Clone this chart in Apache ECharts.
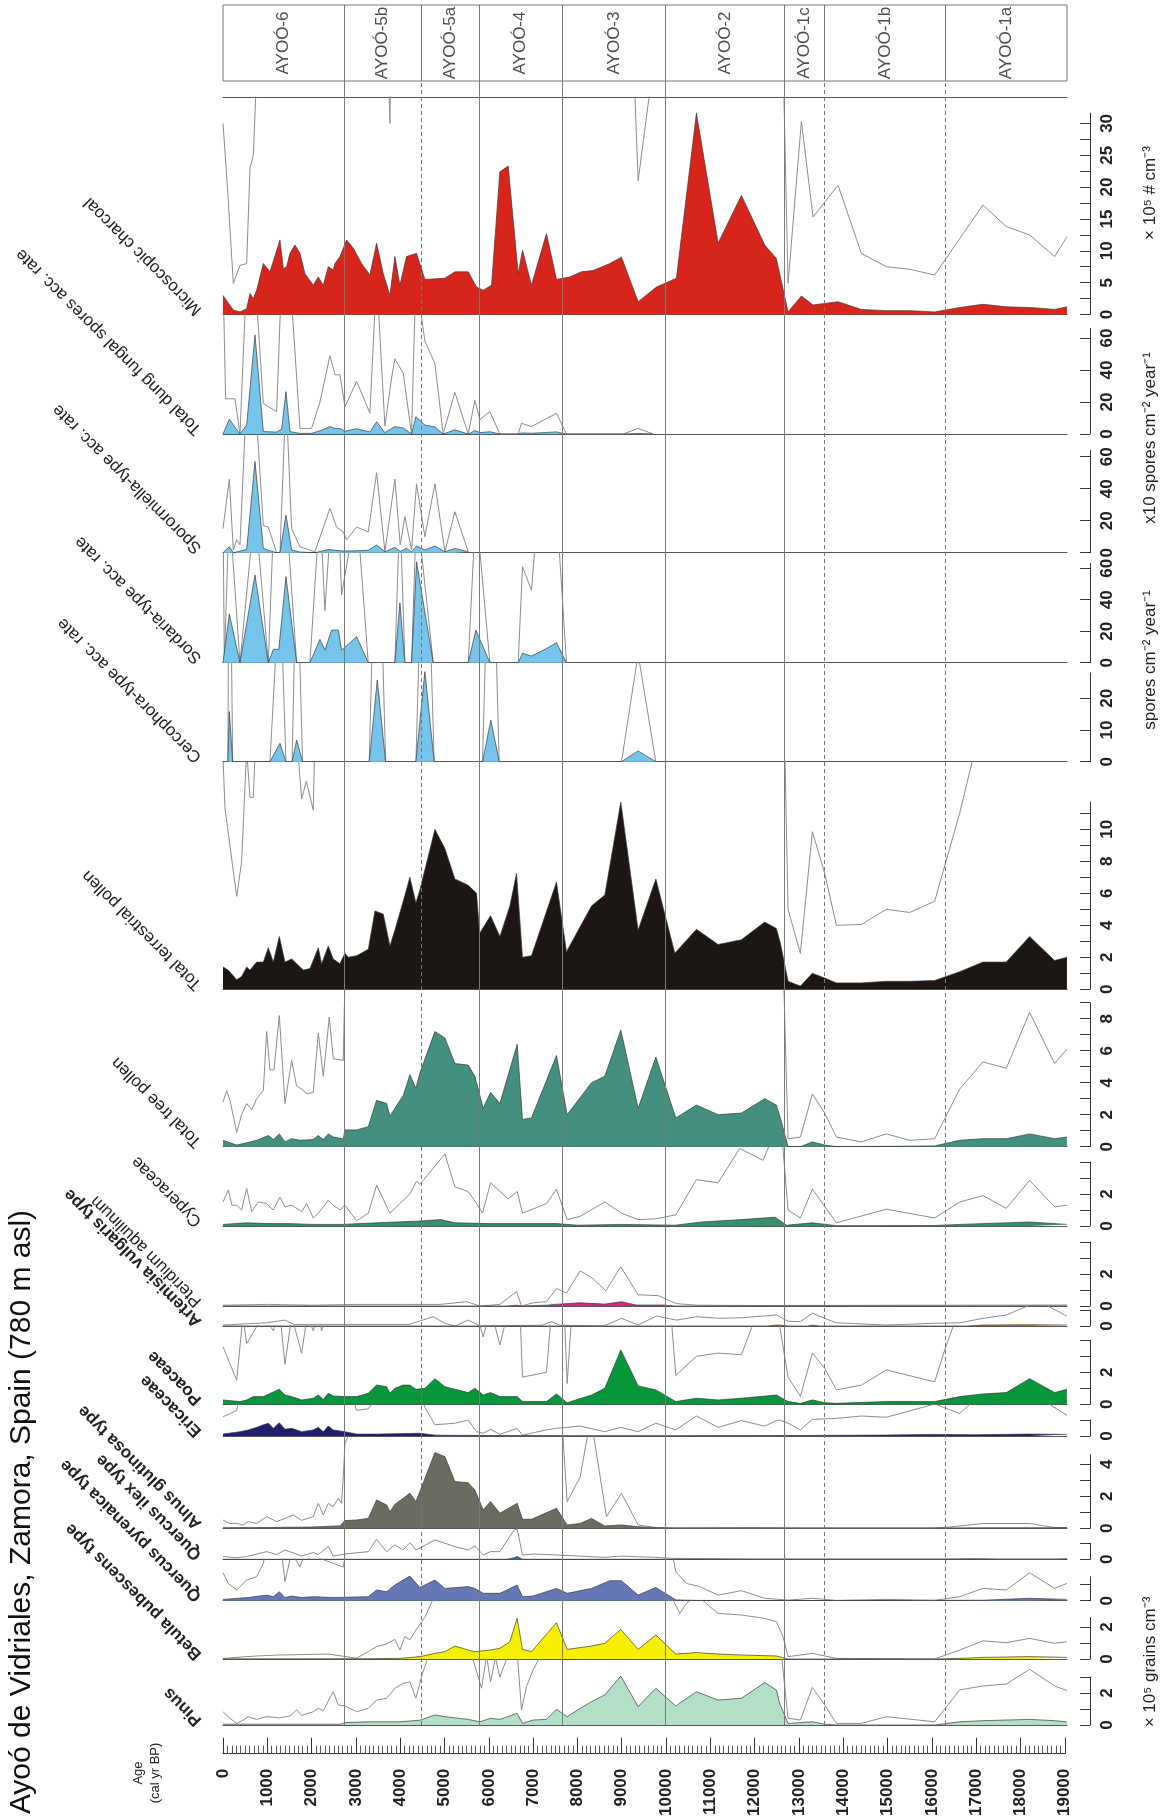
<!DOCTYPE html>
<html lang="en">
<head>
<meta charset="UTF-8">
<title>Ayoó de Vidriales</title>
<script src="https://cdn.jsdelivr.net/npm/echarts/dist/echarts.min.js"></script>
<style>html,body{margin:0;padding:0;background:#fff}</style>
</head>
<body>
<div id="main" style="width:1168px;height:1819px;"></div>
<script type="text/javascript">
var chart = echarts.init(document.getElementById('main'));
var FONT = '"Liberation Sans", Arial, Helvetica, sans-serif';

// ---- zones ----
var zoneBounds = [0, 2730, 4480, 5780, 7655, 9990, 12670, 13580, 16300, 19050];
var zoneNames = ['AYOÓ-6', 'AYOÓ-5b', 'AYOÓ-5a', 'AYOÓ-4', 'AYOÓ-3', 'AYOÓ-2', 'AYOÓ-1c', 'AYOÓ-1b', 'AYOÓ-1a'];
var mainBounds = [2730, 5780, 7655, 9990, 12670];
var subBounds = [4480, 13580, 16300];

// ---- data: [age, value, age, value, ...] ----
var charcoal = [0,3.0, 100,2.0, 233,0.7, 383,0.4, 534,0.9, 609,3.3, 684,2.5, 760,3.8, 910,8.0, 1060,6.7, 1286,11.7, 1361,7.2, 1436,7.5, 1512,9.6, 1624,10.9, 1737,9.6, 1850,6.4, 2038,4.6, 2151,5.9, 2264,4.6, 2376,7.5, 2489,7.0, 2527,8.0, 2640,9.1, 2790,11.7, 2940,10.4, 3128,8.0, 3316,6.2, 3467,11.2, 3617,6.4, 3768,3.0, 3880,9.1, 3993,4.6, 4143,9.1, 4368,9.6, 4557,5.5, 5008,5.7, 5234,6.7, 5535,6.7, 5723,4.3, 5873,3.8, 6061,4.6, 6249,22.4, 6437,23.3, 6663,6.4, 6760,10.1, 6963,4.6, 7301,12.7, 7527,5.5, 7828,5.9, 8091,6.7, 8354,6.9, 8730,8.0, 8994,9.0, 9370,2.0, 9783,4.3, 10234,5.7, 10686,31.6, 11175,11.2, 11701,18.7, 12227,10.9, 12490,8.8, 12754,0.4, 13055,2.9, 13318,1.5, 13882,2.0, 14409,0.8, 14973,0.6, 15499,0.6, 16063,0.4, 16627,1.1, 17153,1.6, 17680,1.2, 18206,1.1, 18770,0.8, 19048,1.2];
var charcoalEx = [0,30, 100,20, 233,4.9, 383,7.7, 534,8.0, 609,23, 684,25, 760,38, 910,80, 3467,112, 3617,64, 3768,30, 3880,91, 8994,90, 9370,21, 9783,43, 12490,88, 12754,4.9, 13055,30.3, 13318,15.3, 13882,20.3, 14409,9.6, 14973,7.5, 15499,7.1, 16063,6.2, 17153,17.2, 17680,13.8, 18206,12.5, 18770,9.1, 19048,12.2];

var dung = [0,0, 143,9.2, 383,0, 534,5.6, 722,62, 910,1.5, 1211,1.2, 1323,3, 1421,26.5, 1512,1.5, 1737,0.4, 2000,0.4, 2188,2, 2414,4.6, 2527,3.5, 2640,3.5, 2752,1.7, 3016,3.3, 3316,1.3, 3467,7.7, 3655,0.8, 3805,3.5, 3880,4.6, 4068,3.8, 4256,0, 4354,10.8, 4557,5.6, 4783,4.4, 4970,0, 5234,2.6, 5535,0, 5685,2.1, 5798,0.9, 6024,1.4, 6250,0, 6663,0, 6738,0.67, 6963,0.46, 7527,1.3, 7753,0, 9030,0, 9370,0.35, 9710,0];
var dungEx = [0,99, 60,22, 271,22, 383,0, 534,99, 722,99, 910,19, 1211,14, 1323,99, 1512,99, 1737,3.5, 2000,3.5, 2188,20, 2414,49, 2527,37, 2640,37, 2752,17, 3016,33, 3316,13, 3467,99, 3655,5, 3805,35, 3880,47, 4068,38, 4256,0, 4354,99, 4557,58, 4783,44, 4970,0, 5234,26, 5535,0, 5685,21, 5798,9, 6024,14, 6250,0, 6663,0, 6738,6.7, 6963,4.6, 7527,13, 7753,0, 9030,0, 9370,3.5, 9710,0];

var spor = [0,0, 143,3.8, 233,0, 383,1, 534,2, 722,57, 910,2.7, 1023,1.5, 1211,0, 1286,0, 1421,23.5, 1549,1.7, 1737,0.4, 2075,0, 2376,2, 2715,1, 3016,1.2, 3279,1.5, 3467,4.8, 3655,0.6, 3880,3.3, 4000,0.8, 4143,2.7, 4256,0.6, 4368,4.2, 4557,1.7, 4783,4.2, 5008,0.6, 5234,2.7, 5535,0.6];
var sporEx = [0,15, 143,46, 233,1.7, 309,8, 383,5, 534,99, 722,99, 910,17, 1023,16, 1211,0, 1286,0, 1421,99, 1549,15, 1737,3.7, 2075,0.6, 2414,27.7, 2564,16, 2715,13, 2790,8, 3016,16, 3279,13, 3467,50, 3655,0.6, 3880,46, 4000,5, 4106,22.5, 4256,1.7, 4368,43, 4557,10, 4783,43, 5008,0.6, 5234,25.6, 5535,0.6];

var sord = [0,0, 30,0, 143,31, 383,0, 722,55.7, 1023,0, 1136,8.5, 1260,8.5, 1421,54.6, 1662,0, 1962,0, 2188,14.8, 2301,8, 2452,20.7, 2602,20.7, 2677,8, 3016,16.5, 3279,0, 3880,0, 3993,38, 4106,0, 4256,0, 4369,64, 4745,0, 5535,0, 5708,20.7, 6024,0, 6663,0, 6760,6, 6963,4.2, 7301,9, 7527,12.7, 7753,0];
var sordEx = [0,99, 30,0, 143,99, 383,0, 722,99, 1023,0, 1136,85, 1260,85, 1421,99, 1662,0, 1962,0, 2188,99, 2301,33, 2452,99, 2602,99, 2677,43, 3016,99, 3279,0, 3880,0, 3993,99, 4106,0, 4256,0, 4369,99, 4745,0, 5535,0, 5708,99, 6024,0, 6663,0, 6760,61, 6963,46, 7113,99, 7527,99, 7753,0];

var cerc = [0,0, 110,0, 143,15.8, 218,0, 1060,0, 1286,5.8, 1421,0, 1560,0, 1662,6.8, 1797,0, 3301,0, 3482,25.8, 3670,0, 4354,0, 4557,28.4, 4767,0, 5858,0, 6046,13.1, 6234,0, 8995,0, 9370,3.4, 9769,0];
var cercEx = [0,0, 110,0, 143,99, 218,0, 1060,0, 1286,58, 1421,0, 1560,0, 1662,68, 1797,0, 3301,0, 3482,99, 3670,0, 4354,0, 4557,99, 4767,0, 5858,0, 6046,99, 6234,0, 8995,0, 9370,34, 9769,0];

var terr = [0,1.4, 120,1.2, 309,0.6, 421,0.8, 534,1.4, 609,1.2, 760,1.7, 910,1.7, 1023,2.6, 1136,1.7, 1271,3.3, 1399,1.7, 1549,1.9, 1662,1.6, 1812,1.2, 1963,1.3, 2151,2.6, 2226,1.6, 2376,2.7, 2489,1.9, 2640,1.6, 2752,2.25, 2827,2.0, 3016,2.1, 3279,2.5, 3430,4.9, 3617,4.7, 3768,2.7, 3880,3.7, 4068,5.5, 4218,7.0, 4354,5.4, 4444,6.2, 4783,10.0, 5008,8.8, 5234,6.9, 5535,6.5, 5723,6.0, 5793,3.5, 6039,4.6, 6250,3.3, 6475,5.2, 6625,7.25, 6760,2.0, 6963,2.1, 7527,6.7, 7753,2.35, 8317,5.2, 8618,5.9, 8979,11.7, 9370,3.7, 9770,6.9, 10198,2.25, 10686,3.75, 11175,2.8, 11701,3.1, 12227,4.2, 12490,3.8, 12580,2.9, 12754,0.5, 13032,0.2, 13303,1.0, 13581,0.7, 13845,0.4, 14409,0.4, 14973,0.5, 15499,0.5, 16063,0.55, 16627,1.1, 17153,1.7, 17680,1.7, 18206,3.3, 18770,1.8, 19048,2.0];
var terrEx = [0,14.5, 45,11.3, 309,5.8, 421,8, 534,15, 609,12, 684,12, 760,17, 1662,16, 1775,11.9, 1880,13, 2038,11.2, 2151,26, 12580,29, 12754,5.0, 13032,2.25, 13303,9.85, 13581,7.25, 13845,4.0, 14409,4.05, 14973,5.0, 15499,4.8, 16063,5.5, 16627,11, 17153,17, 19048,20];

var tree = [0,0.4, 309,0.1, 534,0.25, 760,0.4, 1023,0.7, 1136,0.45, 1271,0.8, 1399,0.3, 1549,0.5, 1737,0.4, 2038,0.45, 2151,0.7, 2264,0.45, 2376,0.8, 2489,0.6, 2715,0.5, 2752,1.05, 3016,1.05, 3279,1.25, 3467,2.9, 3693,2.7, 3768,1.9, 3880,2.4, 4068,3.2, 4218,4.5, 4354,3.65, 4444,4.6, 4783,7.2, 5008,6.8, 5234,5.2, 5535,5.1, 5685,4.4, 5873,2.4, 6039,3.4, 6250,2.7, 6640,6.4, 6760,1.7, 6963,1.8, 7527,5.7, 7768,2.0, 8317,4.0, 8618,4.4, 8979,7.3, 9370,2.4, 9770,5.6, 10220,1.8, 10686,2.6, 11175,2.0, 11701,2.1, 12227,3.0, 12490,2.6, 12600,1.6, 12754,0, 13032,0, 13303,0.3, 13581,0.1, 13845,0, 14973,0.02, 16063,0.05, 16627,0.4, 17153,0.5, 17680,0.5, 18206,0.8, 18770,0.5, 19048,0.6];
var treeEx = [0,2.8, 83,3.5, 158,2.9, 309,0.9, 420,2.0, 534,2.7, 650,2.3, 760,3.0, 910,3.5, 985,7.2, 1060,4.8, 1150,4.8, 1271,8.2, 1399,2.7, 1549,5.4, 1660,3.8, 1775,3.6, 1900,3.3, 2038,3.4, 2151,7.1, 2264,4.4, 2399,8.1, 2489,5.5, 2715,5.4, 2752,10.5, 12600,16, 12754,0.5, 13032,0.6, 13303,3.3, 13581,2.1, 13845,0.6, 14409,0.3, 14973,0.8, 15499,0.4, 16063,0.5, 16627,3.6, 17153,5.3, 17680,4.9, 18206,8.4, 18770,5.2, 19048,6.1];

var cyp = [0,0.1, 534,0.2, 1000,0.15, 1500,0.15, 2000,0.1, 2700,0.1, 3467,0.2, 4369,0.3, 4918,0.4, 5234,0.2, 6000,0.15, 7527,0.15, 8000,0.05, 9000,0.1, 10200,0.05, 10800,0.25, 11700,0.4, 12460,0.55, 12720,0.05, 13303,0.2, 13845,0.02, 16063,0.03, 16627,0.1, 18206,0.25, 19048,0.1];
var cypEx = [0,1.5, 120,2.25, 200,1.3, 309,1.3, 420,1.0, 534,2.35, 647,0.9, 800,1.5, 985,1.4, 1130,1.0, 1286,1.8, 1400,1.2, 1550,1.3, 1775,0.9, 1887,1.4, 2038,0.5, 2151,0.8, 2376,1.6, 2489,1.3, 2640,1.0, 2752,1.3, 3016,0.33, 3279,0.8, 3467,2.55, 3768,0.8, 3880,1.1, 4218,2.0, 4369,2.8, 4444,2.6, 5008,4.5, 5234,2.45, 5535,2.15, 5723,1.4, 5858,0.8, 6039,2.7, 6437,1.7, 6640,2.15, 6760,0.8, 7301,1.4, 7527,2.3, 7768,0.4, 8061,0.6, 8618,1.5, 8994,0.8, 9370,0.4, 9770,0.45, 10220,0.7, 10686,2.9, 11175,2.7, 11663,4.85, 12190,4.1, 12400,5.5, 12620,5.5, 12754,1.0, 13032,0.5, 13303,2.3, 13845,0.2, 14973,1.05, 16063,0.5, 16627,1.5, 17153,1.9, 17680,1.1, 18206,2.85, 18770,1.2, 19048,1.3];

var pter = [0,0, 6400,0, 6625,0.05, 6760,0, 7301,0.05, 7470,0.1, 8061,0.2, 8618,0.12, 8994,0.27, 9331,0.06, 9930,0.06, 10200,0, 19048,0];
var pterEx = [0,0.05, 1000,0.1, 2000,0.05, 3000,0.1, 4000,0.1, 4900,0.1, 5497,0.27, 5800,0, 6250,0.1, 6625,0.9, 6738,0, 7000,0.2, 7301,0.27, 7527,1.1, 7753,0.8, 8061,2.2, 8354,1.7, 8640,0.95, 8979,2.45, 9370,0.7, 9821,0.65, 10234,0.15, 10700,0.05, 12000,0.03, 16300,0.05, 19048,0.06];

var arte = [0,0, 12300,0, 12490,0.06, 12640,0.04, 12754,0, 13200,0, 13303,0.06, 13450,0, 16800,0, 17153,0.06, 18206,0.08, 19048,0.06];
var arteEx = [0,0.06, 985,0.2, 1399,0.37, 1600,0.1, 4200,0.1, 4745,0.58, 5008,0.17, 5234,0, 5535,0.37, 5800,0, 7200,0.05, 7414,0.27, 7600,0.05, 8600,0, 8994,0.48, 9370,0.06, 9783,0.62, 10234,0.37, 10686,0.58, 11213,0.48, 11739,0.52, 12490,0.69, 12754,0.3, 13032,0.27, 13303,0.8, 13581,0.48, 13845,0.2, 14973,0.06, 16063,0.17, 16627,0.2, 17153,0.48, 17680,0.69, 18206,1.3, 18582,1.3, 19048,0.62];

var poac = [0,0.27, 383,0.17, 534,0.27, 684,0.48, 910,0.48, 1271,0.94, 1399,0.58, 1549,0.48, 1775,0.27, 2038,0.38, 2151,0.58, 2264,0.3, 2376,0.69, 2489,0.52, 2752,0.48, 3016,0.48, 3279,0.69, 3467,1.2, 3693,1.1, 3768,0.69, 3880,1.0, 4068,1.2, 4218,1.2, 4354,0.94, 4557,1.0, 4783,1.6, 5008,1.1, 5535,0.73, 5685,1.0, 5873,0.58, 6039,0.73, 6250,0.48, 6640,0.48, 6760,0.17, 7301,0.17, 7527,0.65, 7768,0.1, 8317,0.58, 8618,1.0, 8979,3.4, 9370,1.15, 9770,0.9, 10220,0.17, 10686,0.38, 11175,0.27, 11701,0.38, 12490,0.58, 12754,0.17, 13032,0.06, 13303,0.27, 13581,0.1, 13845,0.06, 14973,0.17, 16063,0.17, 16627,0.48, 17153,0.65, 17680,0.73, 18206,1.6, 18770,0.73, 19048,0.94];
var poacEx = [0,3.6, 309,1.5, 450,5.5, 534,3.8, 760,4.85, 910,5.5, 1136,4.6, 1271,6, 1399,2.5, 1549,5.5, 1775,3.2, 1900,5.5, 2038,4.6, 2151,5.5, 2226,4.6, 2376,6, 5700,6, 5873,4.2, 6039,6, 6250,3.7, 6450,6, 6700,6, 6760,1.7, 7301,2.0, 7420,6, 7700,6, 7768,1.3, 7880,6, 10100,6, 10220,1.8, 10686,3.0, 11175,3.2, 11701,3.1, 12100,6, 12500,6, 12754,1.7, 13032,0.5, 13303,3.2, 13581,2.25, 13845,0.9, 14409,1.2, 14973,2.15, 16063,1.4, 16290,3.4, 16627,6, 19048,9];

var eric = [0,0.12, 383,0.27, 571,0.38, 760,0.54, 910,0.7, 1023,0.8, 1136,0.48, 1271,0.83, 1399,0.42, 1549,0.48, 1775,0.27, 2038,0.38, 2151,0.54, 2264,0.27, 2376,0.62, 2489,0.38, 2752,0.27, 3016,0.12, 3500,0.12, 4444,0.17, 4800,0.05, 6000,0.03, 8000,0.02, 10000,0.02, 13000,0.03, 15000,0.06, 16000,0.1, 17000,0.08, 18206,0.12, 19048,0.1];
var ericEx = [0,1.2, 309,1.6, 383,2.7, 2900,2.7, 3016,1.6, 3279,1.7, 3500,2.5, 4444,2.5, 4557,1.8, 4783,0.7, 5234,0.8, 5535,1.0, 5723,0.27, 5873,0.17, 6039,0.42, 6250,0.1, 6640,0.48, 6760,0.05, 7000,0.2, 7301,0.38, 7527,0.48, 8061,0.62, 8618,0.27, 8979,0.54, 9370,0.27, 9770,0.8, 10220,0.38, 10686,1.25, 11175,0.54, 11701,0.96, 12227,0.62, 12490,0.96, 12566,1.0, 12754,0.8, 13032,0.38, 13303,1.04, 13845,1.1, 14409,1.25, 14973,1.17, 16063,2.0, 16627,1.4, 16900,2.1, 18582,2.1, 19048,1.3];

var alnus = [0,0.04, 1000,0.05, 2000,0.08, 2640,0.15, 2752,0.48, 3016,0.52, 3279,0.62, 3467,1.77, 3693,1.46, 3768,1.04, 3880,1.5, 4068,1.88, 4218,2.2, 4354,1.67, 4444,2.3, 4783,4.73, 5008,4.48, 5234,2.92, 5535,2.85, 5685,2.4, 5873,1.15, 6039,1.67, 6250,0.94, 6640,1.56, 6760,0.56, 6963,0.56, 7527,1.25, 7768,0.21, 8061,0.3, 8317,0.62, 8618,0.15, 8994,0.21, 9370,0.1, 9770,0.04, 10220,0.02, 12000,0.03, 13000,0.02, 16000,0.02, 17153,0.03, 19048,0.04];
var alnusEx = [0,0.52, 150,0.3, 309,0.31, 450,0.2, 571,0.42, 760,0.3, 985,0.73, 1211,0.42, 1399,0.62, 1587,0.83, 1775,0.5, 2038,0.73, 2151,1.56, 2264,0.83, 2376,1.56, 2489,1.35, 2602,1.88, 2677,1.56, 2720,3.5, 2752,5.3, 2800,5.6, 3016,7, 7527,12, 7768,1.67, 8061,3.2, 8241,6, 8354,6, 8655,0.73, 8994,2.19, 9370,0.21, 9790,0.04, 10220,0.02, 16000,0.02, 16300,0.05, 17153,0.3, 18206,0.3, 18770,0.05, 19048,0.05];

var qilex = [0,0, 6400,0, 6570,0.1, 6640,0.17, 6760,0, 19048,0];
var qilexEx = [0,0.17, 309,0.1, 534,0.17, 985,0.48, 1211,0.3, 1399,0.58, 1587,0.4, 1775,0.2, 2038,0.42, 2151,0.3, 2376,0.8, 2489,0.2, 2752,0.33, 3279,0.48, 3467,1.25, 3693,0.48, 3880,0.9, 4068,0.58, 4218,1.04, 4354,0.58, 4783,1.21, 5008,1.0, 5234,0.8, 5535,0.58, 5685,0.83, 5873,0.27, 6039,0.48, 6250,0.48, 6570,1.83, 6640,1.9, 6760,0.27, 7000,0.33, 7527,0.27, 8618,0.12, 8994,0.2, 9770,0.12, 10125,0.06, 12000,0.02, 16300,0.02, 17000,0.05, 17500,0.02, 18800,0.02, 19048,0.05];

var qpyr = [0,0.08, 571,0.2, 985,0.35, 1136,0.25, 1271,0.56, 1399,0.2, 1549,0.29, 1775,0.2, 2038,0.25, 2489,0.2, 3279,0.25, 3467,0.67, 3693,0.56, 3880,0.98, 4218,1.54, 4444,0.83, 4783,1.29, 5008,0.77, 5535,0.88, 5685,0.77, 5873,0.46, 6250,0.46, 6640,0.98, 6760,0.25, 7000,0.29, 7527,0.77, 7768,0.46, 8317,0.77, 8730,1.25, 8994,1.25, 9370,0.35, 9770,0.83, 10220,0.05, 10686,0.02, 12000,0, 17153,0.03, 18206,0.15, 19048,0.08];
var qpyrEx = [0,1.75, 120,1.08, 309,0.67, 534,1.29, 760,1.5, 910,2.33, 985,3.5, 1300,3.5, 1399,1.2, 1549,3, 1737,2.1, 1850,3, 2715,2.1, 2800,3.5, 10100,3.5, 10220,1.8, 10460,1.08, 10760,0.88, 11175,0.35, 11701,0.63, 12227,0.15, 12754,0.04, 13303,0.15, 13845,0.02, 14973,0.08, 16063,0.02, 16627,0.25, 17153,0.77, 17680,0.67, 18206,1.75, 18770,0.77, 19048,1.08];

var betula = [0,0.01, 3279,0.02, 3993,0.04, 4444,0.15, 4783,0.35, 5008,0.46, 5234,0.81, 5535,0.56, 5685,0.46, 6039,0.56, 6250,0.67, 6475,1.08, 6640,2.54, 6760,0.6, 6963,0.46, 7527,2.27, 7768,0.6, 8317,0.81, 8618,0.98, 8979,1.85, 9370,0.6, 9770,1.5, 10220,0.31, 10686,0.4, 11175,0.31, 11701,0.25, 12490,0.19, 12754,0, 16063,0, 16627,0.04, 17153,0.1, 18206,0.15, 19048,0.1];
var betulaEx = [0,0.04, 760,0.19, 1271,0.25, 2376,0.31, 3016,0.05, 3279,0.46, 3467,0.77, 3693,0.94, 3880,1.23, 3993,0.56, 4106,1.4, 4218,1.19, 4354,1.81, 4557,2.6, 4783,4, 10100,4, 10312,2.85, 10460,3.48, 10700,4, 10941,3.38, 11175,2.85, 11701,2.75, 12227,2.54, 12490,2.33, 12640,1.4, 12754,0.15, 13303,0.35, 13845,0.04, 16063,0, 16627,0.56, 17153,1.13, 17680,1.02, 18206,1.29, 18770,0.98, 19048,1.08];

var pinus = [0,0.05, 2640,0.05, 2752,0.15, 3279,0.2, 3993,0.2, 4444,0.3, 4783,0.63, 5008,0.52, 5535,0.35, 5798,0.2, 6039,0.42, 6250,0.35, 6640,0.73, 6760,0.1, 7000,0.31, 7301,0.35, 7527,0.98, 7768,0.52, 8061,1.04, 8317,1.46, 8618,1.88, 8979,3.06, 9370,1.15, 9770,2.29, 10220,1.19, 10686,2.08, 11175,1.56, 11701,1.67, 12227,2.65, 12490,2.19, 12566,1.35, 12754,0.1, 13303,0.2, 13581,0.05, 13845,0, 16063,0, 16627,0.2, 17153,0.27, 17680,0.31, 18206,0.35, 18770,0.27, 19048,0.2];
var pinusEx = [0,0.83, 158,0.42, 309,0.1, 450,0.3, 571,0.52, 760,0.35, 985,0.52, 1271,0.45, 1512,0.56, 1662,0.94, 1775,0.6, 2038,0.83, 2151,1.04, 2264,0.9, 2376,1.5, 2489,2.08, 2602,1.25, 2752,1.19, 3016,0.83, 3279,1.04, 3467,1.56, 3693,1.67, 3880,2.29, 4068,2.6, 4218,2.7, 4354,1.67, 4500,3.2, 4662,4.5, 5600,4.5, 5835,2.3, 5950,4.3, 6039,2.7, 6150,4.2, 6250,3.0, 6450,4.5, 6640,4.5, 6738,0.94, 6850,2.4, 7000,3.44, 7200,4.5, 12600,4.5, 12754,0.42, 13032,0.31, 13303,2.35, 13581,1.25, 13845,0.1, 14409,0.1, 14973,0.52, 16063,0.2, 16627,2.19, 17153,2.44, 17680,2.56, 18206,3.48, 18770,2.44, 19048,2.15];

// ---- layout ----
var AGE_MAX = 19050;
var PLOT_L = 223, PLOT_R = 1067;
function range(a, b, s) { var r = []; for (var v = a; v <= b + 1e-9; v += s) r.push(+v.toFixed(2)); return r; }

var panels = [
  {label: 'Microscopic charcoal', top: 97, base: 314.5, ppu: 6.37, color: '#d8251b', fill: charcoal, ex: charcoalEx, axMax: 31.6, ticks: range(0, 30, 2.5), labels: range(0, 30, 5), topLine: true},
  {label: 'Total dung fungal spores acc. rate', top: 314.5, base: 434, ppu: 1.6, color: '#74c4ec', fill: dung, ex: dungEx, axMax: 66, ticks: [0, 20, 40, 60], labels: [0, 20, 40, 60]},
  {label: 'Sporormiella-type acc. rate', top: 434, base: 552.7, ppu: 1.6, color: '#74c4ec', fill: spor, ex: sporEx, axMax: 64, ticks: [0, 20, 40, 60], labels: [0, 20, 40, 60]},
  {label: 'Sordaria-type acc. rate', top: 552.7, base: 662.7, ppu: 1.575, color: '#74c4ec', fill: sord, ex: sordEx, axMax: 63, ticks: [0, 20, 40, 60], labels: [0, 20, 40, 60]},
  {label: 'Cercophora-type acc. rate', top: 662.7, base: 761.7, ppu: 3.17, color: '#74c4ec', fill: cerc, ex: cercEx, axMax: 28, ticks: [0, 10, 20], labels: [0, 10, 20]},
  {label: 'Total terrestrial pollen', top: 761.7, base: 989.3, ppu: 16, color: '#1c1715', fill: terr, ex: terrEx, axMax: 11.7, ticks: range(0, 11, 1), labels: [0, 2, 4, 6, 8, 10]},
  {label: 'Total tree pollen', top: 989.3, base: 1146.7, ppu: 16, color: '#43907f', fill: tree, ex: treeEx, axMax: 9, ticks: range(0, 9, 1), labels: [0, 2, 4, 6, 8]},
  {label: 'Cyperaceae', top: 1146.7, base: 1226, ppu: 16, color: '#3b8e6d', fill: cyp, ex: cypEx, axMax: 4, ticks: [0, 1, 2, 3, 4], labels: [0, 2]},
  {label: 'Pteridium aquilinum', top: 1226, base: 1306, ppu: 16, color: '#d6247f', fill: pter, ex: pterEx, axMax: 4, ticks: [0, 1, 2, 3, 4], labels: [0, 2]},
  {label: 'Artemisia vulgaris type', top: 1306, base: 1326, ppu: 16, color: '#c07a2c', fill: arte, ex: arteEx, axMax: 1, ticks: [0, 1], labels: [0], bold: true},
  {label: 'Poaceae', top: 1326, base: 1404.3, ppu: 16, color: '#05973a', fill: poac, ex: poacEx, axMax: 4, ticks: [0, 1, 2, 3, 4], labels: [0, 2], bold: true},
  {label: 'Ericaceae', top: 1404.3, base: 1436, ppu: 16, color: '#201c6e', fill: eric, ex: ericEx, axMax: 1, ticks: [0, 1], labels: [0], bold: true},
  {label: 'Alnus glutinosa type', top: 1436, base: 1528.3, ppu: 16, color: '#6c6b62', fill: alnus, ex: alnusEx, axMax: 4.6, ticks: [0, 1, 2, 3, 4], labels: [0, 2, 4], bold: true},
  {label: 'Quercus ilex type', top: 1528.3, base: 1559.3, ppu: 16, color: '#1f72b6', fill: qilex, ex: qilexEx, axMax: 1, ticks: [0, 1], labels: [0], bold: true},
  {label: 'Quercus pyrenaica type', top: 1559.3, base: 1600.7, ppu: 16, color: '#6577b6', fill: qpyr, ex: qpyrEx, axMax: 1.5, ticks: [0, 1], labels: [0], bold: true},
  {label: 'Betula pubescens type', top: 1600.7, base: 1659, ppu: 16, color: '#f7ef00', fill: betula, ex: betulaEx, axMax: 2.6, ticks: [0, 1, 2], labels: [0, 2], bold: true},
  {label: 'Pinus', top: 1659, base: 1725, ppu: 16, color: '#b3dfc9', fill: pinus, ex: pinusEx, axMax: 3, ticks: [0, 1, 2, 3], labels: [0, 2], bold: true}
];

function pairs(a) { var out = []; for (var i = 0; i < a.length; i += 2) out.push([a[i], a[i + 1]]); return out; }

var grids = [], xAxes = [], yAxes = [], series = [], graphics = [];

function addGrid(g, xa, ya) {
  grids.push(g);
  var gi = grids.length - 1;
  xa.gridIndex = gi; ya.gridIndex = gi;
  xAxes.push(xa); yAxes.push(ya);
  return {x: xAxes.length - 1, y: yAxes.length - 1, g: gi};
}
function hidX() { return {type: 'value', min: 0, max: AGE_MAX, show: false}; }

panels.forEach(function (p) {
  // data grid
  var ix = addGrid(
    {left: PLOT_L, width: PLOT_R - PLOT_L, top: p.top, height: p.base - p.top},
    {type: 'value', min: 0, max: AGE_MAX, axisLine: {show: true, onZero: false, lineStyle: {color: '#555', width: 1}},
     axisTick: {show: false}, axisLabel: {show: false}, splitLine: {show: false}},
    {type: 'value', min: 0, max: (p.base - p.top) / p.ppu, show: false}
  );
  if (p.topLine) {
    xAxes.push({gridIndex: ix.g, type: 'value', position: 'top', min: 0, max: AGE_MAX,
      axisLine: {show: true, onZero: false, lineStyle: {color: '#555', width: 1}},
      axisTick: {show: false}, axisLabel: {show: false}, splitLine: {show: false}});
  }
  series.push({type: 'line', xAxisIndex: ix.x, yAxisIndex: ix.y, data: pairs(p.ex), symbol: 'none',
    lineStyle: {color: '#8c8c8c', width: 1}, z: 2, silent: true, clip: true});
  series.push({type: 'line', xAxisIndex: ix.x, yAxisIndex: ix.y, data: pairs(p.fill), symbol: 'none',
    lineStyle: {color: '#3a3a3a', width: 0.7}, areaStyle: {color: p.color, opacity: 1}, z: 3, silent: true, clip: true});

  // axis grid (short y axis on the right)
  var ah = p.axMax * p.ppu;
  addGrid(
    {left: PLOT_L, width: PLOT_R - PLOT_L, top: p.base - ah, height: ah},
    hidX(),
    {type: 'value', position: 'right', offset: 23, min: 0, max: p.axMax,
     axisLine: {show: true, onZero: false, lineStyle: {color: '#333', width: 1}},
     axisTick: {show: true, inside: true, length: 10, customValues: p.ticks, lineStyle: {color: '#333'}},
     axisLabel: {show: true, customValues: p.labels, rotate: 90, margin: 9, fontSize: 17, fontWeight: 'bold',
       color: '#222', fontFamily: FONT},
     splitLine: {show: false}}
  );

  graphics.push({type: 'text', x: 199, y: p.base - 2, rotation: 3 * Math.PI / 4, silent: true,
    style: {text: p.label, fontSize: 17, fontFamily: FONT, fontWeight: p.bold ? 'bold' : 'normal',
      fill: '#222', align: 'left', verticalAlign: 'middle'}});
});

// zone box
var zb = addGrid({left: PLOT_L, width: PLOT_R - PLOT_L, top: 5, height: 76, show: true, borderColor: '#777', borderWidth: 1},
  hidX(), {type: 'value', min: 0, max: 1, show: false});
series.push({type: 'scatter', xAxisIndex: zb.x, yAxisIndex: zb.y, symbolSize: 1, itemStyle: {color: 'transparent'},
  data: zoneNames.map(function (n, i) { return {name: n, value: [(zoneBounds[i] + zoneBounds[i + 1]) / 2, 0.5]}; }),
  label: {show: true, position: 'inside', rotate: 90, formatter: '{b}', fontSize: 17, color: '#222', fontFamily: FONT},
  markLine: {silent: true, symbol: 'none', label: {show: false}, lineStyle: {color: '#777', width: 1, type: 'solid'},
    data: subBounds.map(function (b) { return {xAxis: b}; })}, silent: true});

// zone lines through all panels
var fs = addGrid({left: PLOT_L, width: PLOT_R - PLOT_L, top: 5, height: 1720}, hidX(), {type: 'value', min: 0, max: 1, show: false});
series.push({type: 'line', xAxisIndex: fs.x, yAxisIndex: fs.y, data: [[0, -1]], symbol: 'none', lineStyle: {opacity: 0},
  markLine: {silent: true, symbol: 'none', label: {show: false}, lineStyle: {color: '#7a7a7a', width: 1, type: 'solid'},
    data: mainBounds.map(function (b) { return {xAxis: b}; })}, z: 5});
var fd = addGrid({left: PLOT_L, width: PLOT_R - PLOT_L, top: 81, height: 1644}, hidX(), {type: 'value', min: 0, max: 1, show: false});
series.push({type: 'line', xAxisIndex: fd.x, yAxisIndex: fd.y, data: [[0, -1]], symbol: 'none', lineStyle: {opacity: 0},
  markLine: {silent: true, symbol: 'none', label: {show: false}, lineStyle: {color: '#777', width: 1, type: [4, 3]},
    data: subBounds.map(function (b) { return {xAxis: b}; })}, z: 5});

// age axis
var ageW = (PLOT_R - PLOT_L) * 19000 / AGE_MAX;
addGrid({left: PLOT_L, width: ageW, top: 1700, height: 58},
  {type: 'value', min: 0, max: 19000, interval: 1000, position: 'bottom',
   axisLine: {show: true, onZero: false, lineStyle: {color: '#333', width: 1}},
   axisTick: {show: true, inside: true, length: 16, lineStyle: {color: '#333'}},
   minorTick: {show: true, splitNumber: 10, length: 8, lineStyle: {color: '#555'}},
   axisLabel: {rotate: 90, margin: 15, fontSize: 17, fontWeight: 'bold', color: '#222', fontFamily: FONT,
     formatter: function (v) { return String(v); }},
   splitLine: {show: false}, minorSplitLine: {show: false}},
  {type: 'value', min: 0, max: 1, show: false});

// texts
graphics.push({type: 'text', x: 22, y: 1512, rotation: Math.PI / 2, silent: true,
  style: {text: 'Ayoó de Vidriales, Zamora, Spain (780 m asl)', fontSize: 30, fontFamily: FONT, fill: '#111',
    align: 'center', verticalAlign: 'middle'}});
graphics.push({type: 'text', x: 147, y: 1773, rotation: Math.PI / 2, silent: true,
  style: {text: 'Age\n(cal yr BP)', fontSize: 13, lineHeight: 17, fontFamily: FONT, fill: '#222',
    align: 'center', verticalAlign: 'middle'}});
var units = [
  {t: '× 10⁵ # cm⁻³', y: 193},
  {t: 'x10 spores cm⁻² year⁻¹', y: 438},
  {t: 'spores cm⁻² year⁻¹', y: 660},
  {t: '× 10⁵ grains cm⁻³', y: 1662}
];
units.forEach(function (u) {
  graphics.push({type: 'text', x: 1150, y: u.y, rotation: Math.PI / 2, silent: true,
    style: {text: u.t, fontSize: 17, fontFamily: FONT, fill: '#222', align: 'center', verticalAlign: 'middle'}});
});

chart.setOption({
  backgroundColor: '#fff',
  animation: false,
  grid: grids,
  xAxis: xAxes,
  yAxis: yAxes,
  series: series,
  graphic: {elements: graphics}
});
</script>
</body>
</html>
